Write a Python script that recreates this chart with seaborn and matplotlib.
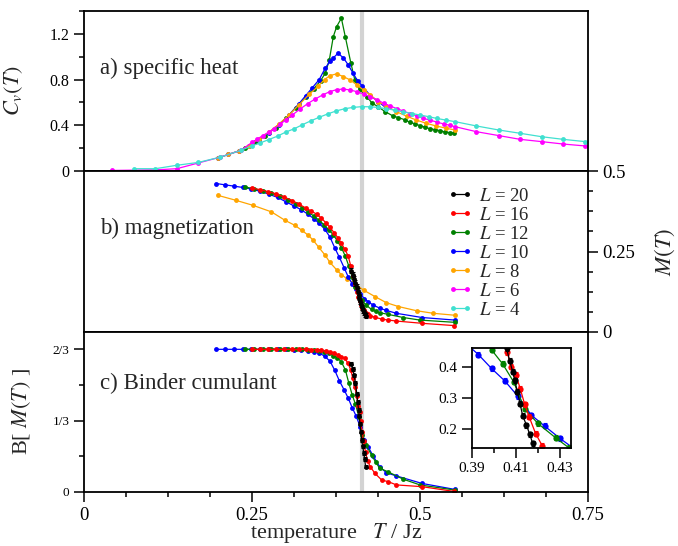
import matplotlib
matplotlib.use('Agg')
import matplotlib.pyplot as plt
from matplotlib.lines import Line2D
from matplotlib.ticker import FixedLocator, MultipleLocator
import seaborn as sns

# ---- data ----
sizes = [20, 16, 12, 10, 8, 6, 4]
colors = {20: 'black', 16: '#ff0000', 12: '#008000', 10: '#0000ff',
          8: '#ffa500', 6: '#ff00ff', 4: '#40e0d0'}
t_c = 0.413

# a) specific heat
cv_t12 = [0.240, 0.255, 0.270, 0.285, 0.300, 0.315, 0.330, 0.342, 0.352, 0.359, 0.365, 0.371,
          0.376, 0.383, 0.389, 0.397, 0.403, 0.410, 0.421, 0.428, 0.438, 0.448, 0.460, 0.468,
          0.478, 0.485, 0.493, 0.500, 0.508, 0.515, 0.522, 0.530, 0.537, 0.545, 0.551]
cv_12 = [0.20, 0.25, 0.31, 0.38, 0.46, 0.55, 0.65, 0.72, 0.79, 0.855, 0.97, 1.176,
         1.264, 1.337, 1.17, 0.948, 0.797, 0.715, 0.651, 0.598, 0.56, 0.52, 0.481, 0.467,
         0.447, 0.426, 0.412, 0.397, 0.382, 0.37, 0.362, 0.353, 0.341, 0.336, 0.33]
cv_t10 = [0.200, 0.215, 0.230, 0.245, 0.260, 0.275, 0.290, 0.305, 0.320, 0.330, 0.340, 0.350,
          0.359, 0.366, 0.371, 0.378, 0.386, 0.393, 0.400, 0.407, 0.414, 0.426, 0.438, 0.450]
cv_10 = [0.115, 0.145, 0.175, 0.22, 0.275, 0.335, 0.405, 0.49, 0.59, 0.66, 0.73, 0.80,
         0.90, 0.96, 0.99, 1.03, 0.99, 0.93, 0.86, 0.79, 0.745, 0.66, 0.607, 0.55]
cv_t8 = [0.200, 0.215, 0.230, 0.245, 0.260, 0.275, 0.290, 0.305, 0.320, 0.335, 0.348, 0.358,
         0.366, 0.376, 0.386, 0.396, 0.406, 0.416, 0.426, 0.438, 0.450, 0.465, 0.480, 0.494,
         0.509, 0.524, 0.539, 0.552]
cv_8 = [0.115, 0.145, 0.175, 0.22, 0.28, 0.34, 0.41, 0.49, 0.58, 0.67, 0.74, 0.80,
        0.835, 0.85, 0.826, 0.797, 0.753, 0.709, 0.666, 0.607, 0.569, 0.519, 0.48, 0.447,
        0.418, 0.394, 0.374, 0.359]
cv_t6 = [0.042, 0.107, 0.138, 0.170, 0.202, 0.233, 0.250, 0.258, 0.266, 0.275, 0.283, 0.292,
         0.300, 0.310, 0.321, 0.333, 0.344, 0.355, 0.366, 0.376, 0.386, 0.396, 0.406, 0.416,
         0.426, 0.436, 0.446, 0.456, 0.466, 0.475, 0.485, 0.495, 0.505, 0.515, 0.525, 0.535,
         0.544, 0.552, 0.584, 0.617, 0.649, 0.681, 0.713, 0.746]
cv_6 = [0.005, 0.01, 0.02, 0.07, 0.12, 0.18, 0.25, 0.28, 0.31, 0.34, 0.37, 0.41,
        0.445, 0.49, 0.54, 0.59, 0.63, 0.665, 0.695, 0.712, 0.717, 0.709, 0.694, 0.674,
        0.65, 0.623, 0.593, 0.568, 0.545, 0.525, 0.503, 0.482, 0.461, 0.445, 0.428, 0.412,
        0.40, 0.388, 0.344, 0.31, 0.277, 0.257, 0.236, 0.219]
cv_t4 = [0.074, 0.106, 0.138, 0.170, 0.202, 0.233, 0.250, 0.262, 0.275, 0.288, 0.300, 0.313,
         0.325, 0.338, 0.350, 0.363, 0.375, 0.388, 0.400, 0.413, 0.425, 0.438, 0.450, 0.463,
         0.475, 0.488, 0.500, 0.513, 0.525, 0.538, 0.552, 0.584, 0.617, 0.649, 0.681, 0.713,
         0.746]
cv_4 = [0.02, 0.02, 0.05, 0.075, 0.12, 0.18, 0.22, 0.245, 0.275, 0.305, 0.34, 0.37,
        0.405, 0.44, 0.47, 0.50, 0.525, 0.545, 0.556, 0.563, 0.562, 0.556, 0.545, 0.532,
        0.517, 0.503, 0.49, 0.475, 0.46, 0.446, 0.432, 0.394, 0.359, 0.33, 0.30, 0.277,
        0.257]

# b) magnetization and c) Binder cumulant (same temperatures)
t20 = [0.398, 0.400, 0.402, 0.404, 0.4058, 0.4072, 0.4086, 0.4095, 0.4107, 0.4119, 0.4131,
       0.4148, 0.4163, 0.4176, 0.419]
m20 = [0.19, 0.178, 0.165, 0.152, 0.14, 0.128, 0.116, 0.106, 0.096, 0.086, 0.077,
       0.068, 0.061, 0.055, 0.05]
b20 = [0.600, 0.575, 0.545, 0.51, 0.46, 0.42, 0.384, 0.357, 0.32, 0.282, 0.243,
       0.213, 0.183, 0.155, 0.118]

t16 = [0.250, 0.262, 0.274, 0.286, 0.298, 0.310, 0.320, 0.330, 0.338, 0.346, 0.353, 0.360,
       0.366, 0.372, 0.378, 0.383, 0.388, 0.393, 0.397, 0.400, 0.403, 0.406, 0.408, 0.410,
       0.412, 0.414, 0.416, 0.419, 0.422, 0.426, 0.433, 0.443, 0.453, 0.465, 0.503, 0.550]
m16 = [0.447, 0.442, 0.436, 0.429, 0.419, 0.408, 0.397, 0.385, 0.376, 0.366, 0.354, 0.339,
       0.325, 0.309, 0.292, 0.276, 0.257, 0.237, 0.205, 0.175, 0.148, 0.125, 0.110, 0.097,
       0.085, 0.075, 0.067, 0.060, 0.055, 0.050, 0.046, 0.040, 0.037, 0.034, 0.027, 0.020]
b16 = [0.667, 0.667, 0.667, 0.667, 0.667, 0.667, 0.667, 0.667, 0.666, 0.665, 0.663, 0.660,
       0.656, 0.650, 0.640, 0.633, 0.625, 0.601, 0.570, 0.531, 0.49, 0.448, 0.40, 0.375,
       0.33, 0.28, 0.24, 0.185, 0.146, 0.118, 0.087, 0.056, 0.048, 0.033, 0.025, 0.003]

t12 = [0.240, 0.253, 0.266, 0.279, 0.292, 0.304, 0.315, 0.325, 0.334, 0.342, 0.350, 0.357,
       0.364, 0.371, 0.377, 0.383, 0.389, 0.394, 0.399, 0.404, 0.409, 0.414, 0.420, 0.428,
       0.434, 0.440, 0.452, 0.475, 0.500, 0.552]
m12 = [0.450, 0.445, 0.439, 0.431, 0.421, 0.410, 0.398, 0.386, 0.372, 0.360, 0.347, 0.333,
       0.318, 0.302, 0.283, 0.262, 0.235, 0.205, 0.172, 0.140, 0.115, 0.098, 0.083, 0.070,
       0.064, 0.060, 0.055, 0.045, 0.037, 0.030]
b12 = [0.667, 0.667, 0.667, 0.667, 0.667, 0.667, 0.667, 0.667, 0.666, 0.664, 0.661, 0.656,
       0.648, 0.638, 0.628, 0.608, 0.57, 0.51, 0.455, 0.41, 0.352, 0.265, 0.218, 0.172,
       0.14, 0.111, 0.095, 0.06, 0.033, 0.009]

t10 = [0.197, 0.210, 0.223, 0.236, 0.249, 0.262, 0.275, 0.288, 0.300, 0.312, 0.323, 0.333,
       0.342, 0.350, 0.358, 0.366, 0.373, 0.380, 0.387, 0.393, 0.399, 0.405, 0.411, 0.417,
       0.423, 0.430, 0.440, 0.450, 0.465, 0.503, 0.552]
m10 = [0.461, 0.457, 0.453, 0.449, 0.444, 0.437, 0.428, 0.418, 0.405, 0.392, 0.380, 0.366,
       0.352, 0.337, 0.320, 0.295, 0.262, 0.232, 0.200, 0.172, 0.150, 0.133, 0.118, 0.104,
       0.094, 0.084, 0.074, 0.067, 0.058, 0.045, 0.037]
b10 = [0.667, 0.667, 0.667, 0.667, 0.667, 0.667, 0.667, 0.667, 0.667, 0.666, 0.664, 0.661,
       0.656, 0.650, 0.635, 0.612, 0.57, 0.52, 0.478, 0.44, 0.395, 0.355, 0.305, 0.245,
       0.21, 0.17, 0.118, 0.09, 0.075, 0.04, 0.012]

t8 = [0.200, 0.226, 0.252, 0.279, 0.299, 0.314, 0.324, 0.334, 0.341, 0.349, 0.359, 0.366,
      0.376, 0.383, 0.391, 0.403, 0.416, 0.433, 0.450, 0.468, 0.495, 0.520, 0.552]
m8 = [0.424, 0.409, 0.393, 0.373, 0.347, 0.331, 0.316, 0.300, 0.285, 0.264, 0.238, 0.216,
      0.193, 0.178, 0.166, 0.150, 0.130, 0.110, 0.091, 0.079, 0.066, 0.058, 0.052]

err_bar = 0.008

# ---- style ----
sns.set_theme(style='ticks', rc={
    'axes.edgecolor': 'black', 'axes.linewidth': 1.3,
    'xtick.color': 'black', 'ytick.color': 'black',
    'xtick.direction': 'out', 'ytick.direction': 'out',
    'xtick.major.size': 7, 'ytick.major.size': 7,
    'xtick.minor.size': 3.6, 'ytick.minor.size': 3.6,
    'xtick.major.width': 1.1, 'ytick.major.width': 1.1,
    'xtick.minor.width': 1.1, 'ytick.minor.width': 1.1,
})
plt.rcParams['font.family'] = ['Liberation Serif', 'DejaVu Serif']
plt.rcParams['mathtext.fontset'] = 'stix'

fig = plt.figure(figsize=(6.78, 5.46), dpi=100)
left, width = 84 / 678, 504 / 678
ax_a = fig.add_axes([left, 1 - 171 / 546, width, 160 / 546])
ax_b = fig.add_axes([left, 1 - 332 / 546, width, 161 / 546])
ax_c = fig.add_axes([left, 1 - 492 / 546, width, 160 / 546])

line_kw = dict(marker='o', markersize=3.5, markeredgewidth=0, linewidth=0.9)


def draw(ax, t, v, size, err=False, ms=3.5):
    kw = dict(line_kw, markersize=ms)
    sns.lineplot(x=t, y=v, ax=ax, color=colors[size], legend=False, **kw)
    if err:
        ax.errorbar(t, v, yerr=err_bar, fmt='none', ecolor=colors[size],
                    elinewidth=0.8, capsize=1.6, capthick=0.8)


# a) specific heat
for t, v, s in [(cv_t12, cv_12, 12), (cv_t10, cv_10, 10), (cv_t8, cv_8, 8),
                (cv_t6, cv_6, 6), (cv_t4, cv_4, 4)]:
    draw(ax_a, t, v, s)

# b) magnetization
for t, v, s in [(t8, m8, 8), (t10, m10, 10), (t12, m12, 12), (t16, m16, 16)]:
    draw(ax_b, t, v, s)
draw(ax_b, t20, m20, 20, err=True)

# c) Binder cumulant
for t, v, s in [(t10, b10, 10), (t12, b12, 12), (t16, b16, 16)]:
    draw(ax_c, t, v, s)
draw(ax_c, t20, b20, 20, err=True)

for ax in (ax_a, ax_b, ax_c):
    ax.axvline(t_c, color='#d3d3d3', lw=3, zorder=0)
    ax.set_xlim(0, 0.75)
    ax.set_xlabel('')
    ax.set_ylabel('')

ax_a.set_ylim(0, 1.4)
ax_a.yaxis.set_major_locator(FixedLocator([0, 0.4, 0.8, 1.2]))
ax_a.yaxis.set_minor_locator(MultipleLocator(0.2))
ax_a.set_yticklabels(['0', '0.4', '0.8', '1.2'])
ax_a.tick_params(axis='x', which='both', bottom=False, labelbottom=False)
ax_a.tick_params(axis='y', which='both', labelsize=11.5)

ax_b.set_ylim(0, 0.5)
ax_b.yaxis.tick_right()
ax_b.yaxis.set_major_locator(FixedLocator([0, 0.25, 0.5]))
ax_b.yaxis.set_minor_locator(MultipleLocator(0.0625))
ax_b.set_yticklabels(['0', '0.25', '0.5'])
ax_b.tick_params(axis='x', which='both', bottom=False, labelbottom=False)
ax_b.tick_params(axis='y', which='both', labelsize=13.5, left=False, right=True)

ax_c.set_ylim(0, 0.748)
ax_c.yaxis.set_major_locator(FixedLocator([0, 1 / 3, 2 / 3]))
ax_c.yaxis.set_minor_locator(MultipleLocator(1 / 6))
ax_c.set_yticklabels(['0', '1/3', '2/3'])
ax_c.tick_params(axis='y', which='both', labelsize=9.5)
ax_c.xaxis.set_major_locator(FixedLocator([0, 0.25, 0.5, 0.75]))
ax_c.xaxis.set_minor_locator(MultipleLocator(0.0625))
ax_c.set_xticklabels(['0', '0.25', '0.5', '0.75'])
ax_c.tick_params(axis='x', which='both', labelsize=13.5)

# axis labels
ax_a.set_ylabel(r'$C_v(T)$', fontsize=16)
ax_a.yaxis.set_label_coords(-0.117, 0.5)
ax_b.yaxis.set_label_position('right')
ax_b.set_ylabel(r'$M(T)$', fontsize=16.5, rotation=90)
ax_b.yaxis.set_label_coords(1.129, 0.5)
ax_c.set_ylabel(r'B[ $M(T)$ ]', fontsize=16)
ax_c.yaxis.set_label_coords(-0.101, 0.5)
ax_c.set_xlabel(r'temperature   $T$ / Jz', fontsize=16)
ax_c.xaxis.set_label_coords(0.5, -0.18)

# panel titles
ax_a.text(0.032, 0.644, 'a) specific heat', transform=ax_a.transAxes, fontsize=16.5, va='center')
ax_b.text(0.032, 0.646, 'b) magnetization', transform=ax_b.transAxes, fontsize=16.5, va='center')
ax_c.text(0.032, 0.68, 'c) Binder cumulant', transform=ax_c.transAxes, fontsize=16.5, va='center')

# legend
handles = [Line2D([0], [0], color=colors[s], **line_kw) for s in sizes]
labels = [rf'$L$ = {s}' for s in sizes]
ax_b.legend(handles, labels, loc='upper left', bbox_to_anchor=(0.72, 0.895), frameon=False,
            fontsize=13.5, labelspacing=0.1, handlelength=1.35, handletextpad=0.35,
            numpoints=2, borderpad=0, borderaxespad=0)

# inset: crossing of the Binder cumulant
ax_in = fig.add_axes([471.7 / 678, 1 - 447.7 / 546, 99.3 / 678, 99.4 / 546])
for t, v, s in [(t10, b10, 10), (t12, b12, 12), (t16, b16, 16), (t20, b20, 20)]:
    draw(ax_in, t, v, s, err=True, ms=4.5)
ax_in.set_xlim(0.39, 0.435)
ax_in.set_ylim(0.14, 0.46)
ax_in.xaxis.set_major_locator(FixedLocator([0.39, 0.41, 0.43]))
ax_in.xaxis.set_minor_locator(FixedLocator([0.40, 0.42]))
ax_in.set_xticklabels(['0.39', '0.41', '0.43'])
ax_in.yaxis.set_major_locator(FixedLocator([0.2, 0.3, 0.4]))
ax_in.set_yticklabels(['0.2', '0.3', '0.4'])
ax_in.tick_params(which='both', labelsize=11)
ax_in.set_xlabel('')
ax_in.set_ylabel('')

fig.savefig('out.png', dpi=100)
